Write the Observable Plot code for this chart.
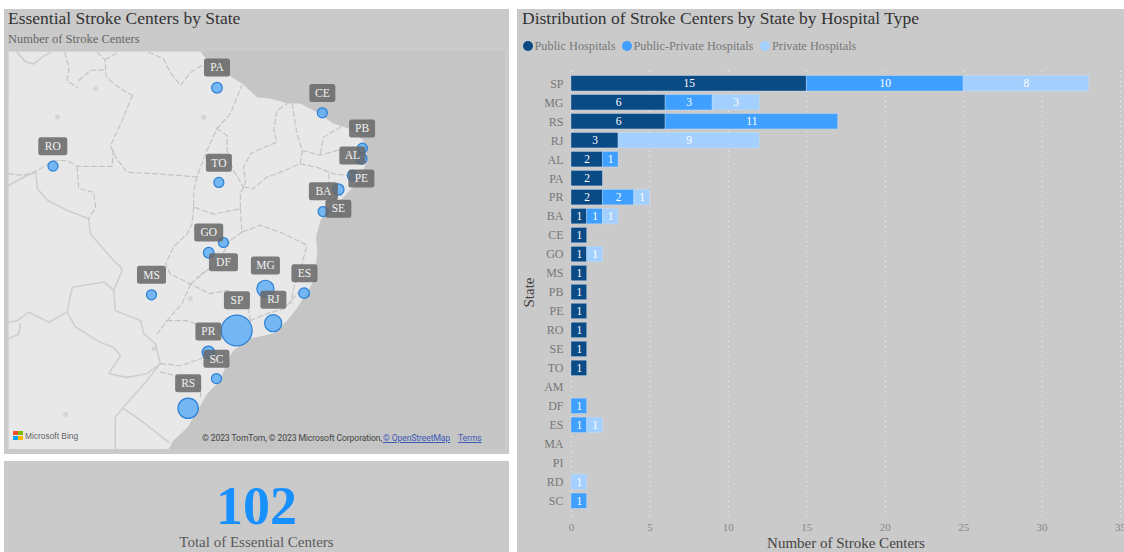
<!DOCTYPE html>
<html>
<head>
<meta charset="utf-8">
<script src="https://cdn.jsdelivr.net/npm/d3@7"></script>
<script src="https://cdn.jsdelivr.net/npm/@observablehq/plot@0.6"></script>
<style>
  html, body { margin: 0; padding: 0; background: #fff; width: 1124px; height: 552px; overflow: hidden; font-family: "Liberation Serif", serif; }
  .panel { position: absolute; background: #cacaca; }
  .t { position: absolute; white-space: nowrap; line-height: 1; }
  .swatch { position: absolute; width: 10px; height: 10px; border-radius: 50%; }
  .sq { position: absolute; width: 4.4px; height: 4.4px; }
  .plot { position: absolute; }
  .plot svg { display: block; }
  .credit { font-family: Roboto; font-size: 8.6px; letter-spacing: -0.1px; top: 433.5px; }
  a { color: #3d5bb5; }
</style>
</head>
<body>
<div class="panel" style="left:4px;top:9px;width:505px;height:445px"></div>
<div class="panel" style="left:4px;top:461px;width:505px;height:91px"></div>
<div class="panel" style="left:517px;top:9px;width:607px;height:543px"></div>

<div class="t" style="left:8px;top:10px;font-size:17.5px;color:#333">Essential Stroke Centers by State</div>
<div class="t" style="left:8px;top:33px;font-size:12.5px;color:#666">Number of Stroke Centers</div>
<div id="map" class="plot" style="left:8px;top:51px"></div>

<div class="sq" style="left:13.4px;top:431px;background:#f25022"></div>
<div class="sq" style="left:18.3px;top:431px;background:#7fba00"></div>
<div class="sq" style="left:13.4px;top:436px;background:#00a4ef"></div>
<div class="sq" style="left:18.3px;top:436px;background:#ffb900"></div>
<div class="t" style="left:25px;top:431.5px;font-family:'Liberation Sans';font-size:8.4px;color:#666">Microsoft Bing</div>
<div class="t credit" style="left:202px;color:#444">© 2023 TomTom, © 2023 Microsoft Corporation,</div>
<div class="t credit" style="left:383px"><a href="#">© OpenStreetMap</a></div>
<div class="t credit" style="left:458px"><a href="#">Terms</a></div>

<div class="t" style="left:4px;width:505px;text-align:center;top:479px;font-size:54px;font-weight:bold;color:#1890ff">102</div>
<div class="t" style="left:4px;width:505px;text-align:center;top:535px;font-size:15px;color:#5a5a5a">Total of Essential Centers</div>

<div class="t" style="left:522px;top:10px;font-size:17.5px;color:#333">Distribution of Stroke Centers by State by Hospital Type</div>
<div id="legend"></div>
<div id="bars" class="plot" style="left:517px;top:9px"></div>

<script>
// Hospital counts per state, split by hospital type
const states = ["SP","MG","RS","RJ","AL","PA","PR","BA","CE","GO","MS","PB","PE","RO","SE","TO","AM","DF","ES","MA","PI","RD","SC"];
const publicHospitals        = [15,6,6,3,2,2,2,1,1,1,1,1,1,1,1,1,0,0,0,0,0,0,0];
const publicPrivateHospitals = [10,3,11,0,1,0,2,1,0,0,0,0,0,0,0,0,0,1,1,0,0,0,1];
const privateHospitals       = [8,3,0,9,0,0,1,1,0,1,0,0,0,0,0,0,0,0,1,0,0,1,0];
const typeNames  = ["Public Hospitals","Public-Private Hospitals","Private Hospitals"];
const typeColors = ["#0a4a85","#40a0ff","#a3d0ff"];
const xTicks = [0,5,10,15,20,25,30,35];

// Bubble states: longitude and Web-Mercator northing (degrees), with centre totals
const cityStates = ["RO","PA","CE","PB","AL","PE","BA","SE","TO","DF","GO","MS","MG","ES","RJ","SP","PR","SC","RS"];
const cityLon    = [-63.82,-48.35,-38.41,-34.63,-34.73,-35.58,-36.90,-38.34,-48.17,-47.74,-49.13,-54.53,-43.78,-40.13,-43.05,-46.49,-49.16,-48.40,-51.07];
const cityNorth  = [-8.83,-1.44,-3.80,-7.14,-8.11,-9.71,-11.03,-13.11,-10.37,-16.03,-17.00,-20.96,-20.40,-20.81,-23.64,-24.33,-26.40,-28.86,-31.66];
const cityTotal  = [1,2,1,1,3,1,3,1,1,1,2,1,12,2,12,33,5,1,17];
// Callout anchors for the state tags
const tagLon     = [-63.84,-48.35,-38.41,-34.66,-35.58,-34.73,-38.31,-36.90,-48.17,-47.74,-49.13,-54.53,-43.78,-40.10,-43.03,-46.47,-49.16,-48.40,-51.07];
const tagNorth   = [-6.95,0.47,-1.93,-5.28,-7.83,-10.00,-11.19,-12.85,-8.52,-17.89,-15.09,-19.08,-18.20,-18.93,-21.43,-21.47,-24.42,-27.00,-29.30];
const wideTags   = ["RO","MS","MG","BA","GO","DF"];

// Base map in the same coordinates
const coast = [[-68.02,1.98],[-49.91,1.98],[-48.9,0.6],[-47.08,-0.38],[-45.98,-1.04],[-44.53,-2.36],[-43.31,-2.45],[-41.71,-2.92],[-40.48,-2.92],[-38.88,-3.77],[-37.37,-4.81],[-35.95,-5.28],[-34.54,-6.41],[-34.16,-8.02],[-34.54,-9.24],[-35.10,-10.37],[-36.43,-11.79],[-37.75,-12.73],[-38.59,-13.96],[-39.0,-15.5],[-38.88,-17.07],[-39.07,-18.39],[-39.07,-19.33],[-39.73,-20.56],[-40.76,-22.16],[-41.71,-23.39],[-43.03,-24.61],[-45.2,-25.08],[-46.8,-26.22],[-47.36,-27.16],[-48.02,-29.04],[-49.25,-30.27],[-50.19,-31.87],[-51.14,-33.48],[-52.46,-34.70],[-52.93,-35.55],[-68.02,-35.55]];
const stateBorders = [
  [[-62.7,1.9],[-62.3,.35],[-62.5,-.75],[-61.5,-1.45]],
  [[-61.4,-.75],[-60.3,.2],[-58.9,.25]],
  [[-59.65,1.9],[-58.9,1.2],[-58.8,-.45],[-57.6,-1.4],[-56.35,-2.15]],
  [[-58.9,1.2],[-57.8,1.85]],
  [[-54.8,1.9],[-53.4,1.3],[-52.75,0],[-51.8,-1.2],[-50.85,0],[-49.6,.8]],
  [[-56.35,-2.15],[-57.15,-4.2],[-58.4,-6.9],[-57.9,-8],[-56.85,-9.4],[-53.35,-9.6],[-50.25,-9.85],[-49.3,-7.35],[-48.35,-5.3],[-47.1,-3.9],[-46,-1.2]],
  [[-48.35,-5.3],[-47.4,-5.95],[-47.4,-7.35],[-46.8,-9.25],[-45.85,-10.8]],
  [[-68,-9.55],[-66.55,-9.7],[-65.3,-9.25],[-63.75,-8.3],[-62.5,-8.3],[-61.55,-8.85],[-58.25,-8.85],[-58.1,-7.05]],
  [[-61.55,-8.85],[-61.4,-10.95],[-60,-11.3],[-59.8,-12.7],[-60.45,-13.8]],
  [[-50.25,-9.85],[-50.55,-11.15],[-50.55,-12.7],[-48.65,-13.35],[-46.15,-12.85],[-46.15,-11.45],[-45.65,-10.35],[-45.85,-8.95],[-45.2,-7.65],[-42.7,-6.55],[-43,-5.45],[-42.7,-3.6],[-41.75,-2.95]],
  [[-45.85,-10.8],[-44.9,-10.95],[-43.65,-9.85],[-42.7,-9.55],[-40.5,-8.6],[-38.9,-8.95],[-37.35,-9.55],[-36.1,-9.7]],
  [[-37.8,-9.55],[-37.8,-10.8],[-36.4,-11.75]],
  [[-41.25,-2.95],[-40.8,-5.8],[-40.3,-7.35],[-38.6,-7.8],[-37,-7.35],[-34.85,-7.05]],
  [[-40.3,-7.35],[-40.5,-8.6]],
  [[-38.6,-7.65],[-38.3,-6.1],[-36.7,-5.15]],
  [[-50.55,-12.7],[-50.7,-14.25],[-51.15,-15.2],[-52.45,-16.45],[-53.2,-18.05],[-52.75,-19],[-50.85,-19.95],[-49,-20.85],[-47.4,-20.55],[-45.5,-21.5],[-45.2,-23.4]],
  [[-46.15,-12.85],[-46,-15.05],[-44.25,-14.4],[-42.05,-15.2],[-39.85,-16.3],[-40.35,-18.05],[-41.1,-20.25],[-41.4,-21.8]],
  [[-46,-15.05],[-47.1,-15.85],[-48.35,-18.05],[-50.25,-19.3]],
  [[-50.85,-19.95],[-49.3,-18.65]],
  [[-50.85,-19.95],[-51.65,-21.8],[-53.05,-23.4],[-54,-24.65]],
  [[-53.05,-23.4],[-51.15,-23.4],[-49.6,-24],[-48.35,-25.1]],
  [[-53.7,-27.45],[-51.8,-27.65],[-49.9,-27],[-48.65,-26.2]],
  [[-53.7,-28.25],[-51.5,-28.75],[-49.9,-29.65],[-49.9,-30.75]],
  [[-45.2,-23.4],[-43.65,-22.75],[-42.05,-22.3],[-40.5,-20.55],[-39.7,-20.55]]
];
const countryBorders = [
  [[-67.2,1.9],[-66.4,1],[-65.65,.8],[-64.85,1.45],[-64.05,1.9]],
  [[-68,-10.65],[-66.55,-9.85],[-65.45,-9.4],[-65.3,-10.95],[-64.35,-12.05],[-62.5,-13],[-60.45,-13.8],[-60.3,-15.2],[-58.1,-17.75],[-57.45,-18.35],[-57.3,-18.65],[-58.1,-20.55],[-57.95,-22.45],[-55.55,-23.4],[-55.25,-24.65],[-54.15,-25.6],[-53.7,-27.45],[-54.95,-29.05],[-57.15,-31.55],[-57.95,-32.5],[-57.95,-35.55]],
  [[-57.15,-31.7],[-55.55,-32.8],[-52.9,-34.85]],
  [[-58.1,-20.55],[-59,-19.75],[-62,-20.25],[-62.5,-22.6],[-64.2,-23.55],[-66.1,-22.6],[-67.2,-23.4],[-68,-23.55]],
  [[-62.5,-22.6],[-61.7,-24],[-59.35,-25.45],[-58.1,-25.9],[-57.45,-26.7],[-58.55,-28.4],[-56.85,-28.75],[-54.95,-28.4],[-53.7,-27.45]],
  [[-68,-25.1],[-67.05,-24.65],[-66.9,-23.7]]
];
const lakes = [[-59.81,-1.54],[-49.6,-4.21],[-63.4,-4.2],[-48.34,-14.58],[-50.85,-21.34],[-62.64,-32.25],[-54.3,-26.06]];

// Flatten each polyline into rows so it can be split by z
const polylineRows = lines => lines.flatMap((pts, id) => pts.map(([lon, north]) => ({lon, north, id})));

// Rounded rectangle used behind the state tags
const tagBox = w => ({
  draw(ctx) {
    const x = w / 2, y = 9, r = 2.5;
    ctx.moveTo(-x + r, -y);
    ctx.arcTo(x, -y, x, y, r);
    ctx.arcTo(x, y, -x, y, r);
    ctx.arcTo(-x, y, -x, -y, r);
    ctx.arcTo(-x, -y, x, -y, r);
    ctx.closePath();
  }
});

const cities = cityStates.map((state, i) => ({state, lon: cityLon[i], north: cityNorth[i], total: cityTotal[i], tagLon: tagLon[i], tagNorth: tagNorth[i]}));
const isWide = d => wideTags.includes(d.state);

const map = Plot.plot({
  width: 497, height: 398,
  margin: 0,
  style: {background: "#c5c5c5"},
  x: {domain: [-68.02, -21.13], axis: null},
  y: {domain: [-35.55, 1.98], axis: null},
  r: {type: "linear", domain: [1, 33], range: [5, 15.4]},
  marks: [
    Plot.line(coast, {x: d => d[0], y: d => d[1], fill: "#e8e8e8", stroke: "none"}),
    Plot.dot(lakes, {x: d => d[0], y: d => d[1], r: 2.5, fill: "#d6d6d6"}),
    Plot.line(polylineRows(countryBorders), {x: "lon", y: "north", z: "id", stroke: "#cfcfcf", strokeWidth: 1.6, clip: "frame"}),
    Plot.line(polylineRows(stateBorders), {x: "lon", y: "north", z: "id", stroke: "#c4c4c4", strokeWidth: 1.2, strokeDasharray: "5 3", clip: "frame"}),
    Plot.dot(cities, {x: "lon", y: "north", r: "total", fill: "#58a9f6", fillOpacity: 0.8, stroke: "#2a80d5", strokeWidth: 1.2}),
    Plot.dot(cities.filter(isWide), {x: "tagLon", y: "tagNorth", symbol: tagBox(29), fill: "#666", fillOpacity: 0.85, stroke: "none"}),
    Plot.dot(cities.filter(d => !isWide(d)), {x: "tagLon", y: "tagNorth", symbol: tagBox(26), fill: "#666", fillOpacity: 0.85, stroke: "none"}),
    Plot.text(cities, {x: "tagLon", y: "tagNorth", text: "state", fill: "#f2f2f2", fontFamily: "Liberation Serif", fontSize: 11.5})
  ]
});
document.getElementById("map").append(map);

// Long table for the stacked bars; empty segments are left out
const seriesValues = [publicHospitals, publicPrivateHospitals, privateHospitals];
const rows = typeNames.flatMap((type, t) =>
  states.map((state, i) => ({state, type, value: seriesValues[t][i]})).filter(d => d.value > 0));

const stackOptions = {x: "value", y: "state", z: "type", order: typeNames};

const bars = Plot.plot({
  width: 607, height: 543,
  marginLeft: 54, marginRight: 4, marginTop: 63, marginBottom: 40,
  style: {background: "transparent", fontFamily: "Liberation Serif"},
  x: {domain: [0, 35], axis: null},
  y: {domain: states, padding: 0.19, round: false, axis: null},
  color: {domain: typeNames, range: typeColors},
  marks: [
    Plot.ruleX(xTicks, {stroke: "#fff", strokeOpacity: 0.75, strokeWidth: 1, strokeDasharray: "1 4", insetTop: -1, insetBottom: -5}),
    Plot.barX(rows, Plot.stackX({...stackOptions, fill: "type", stroke: "#cfe3f7", strokeOpacity: 0.45, strokeWidth: 0.8})),
    Plot.text(rows, Plot.stackX({...stackOptions, text: "value", fill: "#fff", fontSize: 11.5})),
    Plot.axisY({tickSize: 0, tickPadding: 8, fontSize: 12, color: "#777", label: null}),
    Plot.axisY({ticks: [], label: "State", labelAnchor: "center", labelArrow: "none", labelOffset: 48, fontSize: 15, color: "#444"}),
    Plot.axisX({ticks: xTicks, tickSize: 0, tickPadding: 11, fontSize: 11, color: "#888", label: null}),
    Plot.axisX({ticks: [], label: "Number of Stroke Centers", labelAnchor: "center", labelArrow: "none", labelOffset: 35, fontSize: 15, color: "#444"})
  ]
});
document.getElementById("bars").append(bars);

// Legend row above the bars
const legendSpots = [[523, 534.5], [622, 633.5], [760, 772]];
const legend = document.getElementById("legend");
typeNames.forEach((name, i) => {
  const dot = document.createElement("div");
  dot.className = "swatch";
  dot.style.cssText = `left:${legendSpots[i][0]}px;top:41px;background:${typeColors[i]}`;
  const label = document.createElement("div");
  label.className = "t";
  label.style.cssText = `left:${legendSpots[i][1]}px;top:40px;font-size:12.3px;color:#777`;
  label.textContent = name;
  legend.append(dot, label);
});
</script>
</body>
</html>
